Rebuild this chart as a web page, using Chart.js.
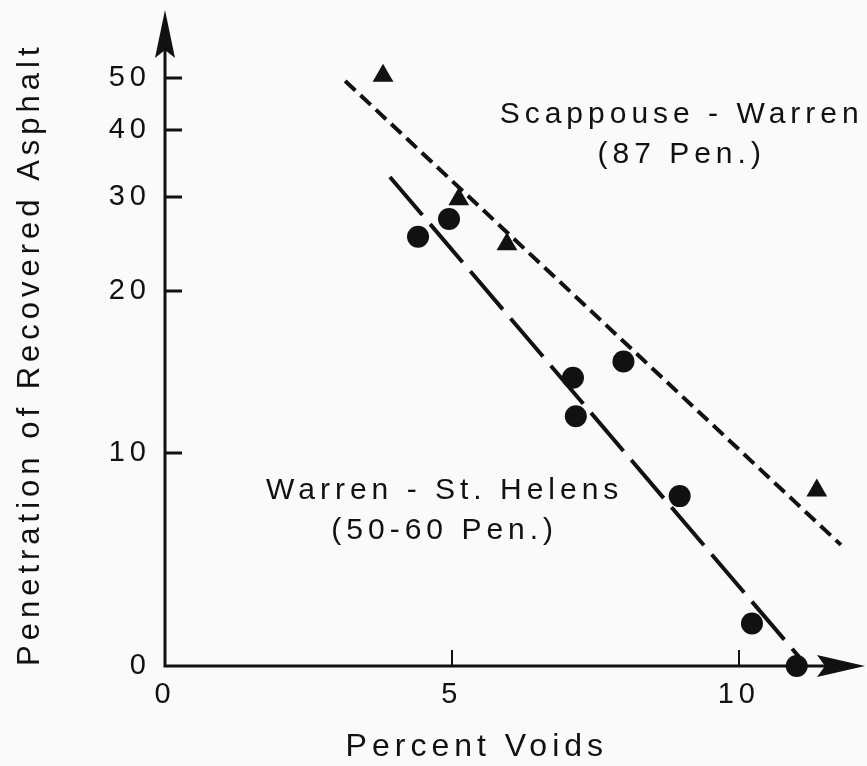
<!DOCTYPE html>
<html>
<head>
<meta charset="utf-8">
<title>Penetration vs Percent Voids</title>
<script src="https://cdn.jsdelivr.net/npm/chart.js@4/dist/chart.umd.min.js"></script>
<style>
  html, body { margin: 0; padding: 0; background: #fafafa; }
  canvas { display: block; }
</style>
</head>
<body>
<canvas id="voidsChart" width="867" height="766"></canvas>
<script>
// Penetration of recovered asphalt against percent voids, two mix sources.
// The penetration axis is logarithmic; its floor is printed as "0".

const Y_FLOOR = 4;
const Y_MAX = 67;
const X_MAX = 12.2;

const xTickValues = [0, 5, 10];
const yTickValues = [0, 10, 20, 30, 40, 50];

// Scappouse - Warren (87 pen.), triangles
const scappouseVoids = [3.80, 5.12, 5.96, 11.36];
const scappousePen   = [50.5, 29.7, 24.5, 8.5];

// Warren - St. Helens (50-60 pen.), circles
const warrenVoids = [4.41, 4.95, 7.11, 7.16, 7.99, 8.97, 10.23, 11.01];
const warrenPen   = [25.3, 27.3, 13.8, 11.7, 14.8, 8.3, 4.8, 0];

// fitted lines (end points)
const scappouseFitVoids = [3.14, 11.78];
const scappouseFitPen   = [49.4, 6.73];
const warrenFitVoids = [3.92, 11.05];
const warrenFitPen   = [32.7, 4.16];

const scappouseLabel = ['Scappouse - Warren', '(87 Pen.)'];
const warrenLabel = ['Warren - St. Helens', '(50-60 Pen.)'];
const xTitle = 'Percent Voids';
const yTitle = 'Penetration of Recovered Asphalt';

const INK = '#111111';
const FONT = '"Liberation Sans", Arial, Helvetica, sans-serif';

// zero can't sit on a log axis, so it goes to the floor
function toPoints(xs, ys) {
    return xs.map((x, i) => ({ x: x, y: Math.max(ys[i], Y_FLOOR) }));
}

// axis lines with arrow heads and inward tick marks
const axisArrows = {
    id: 'axisArrows',
    beforeDraw(chart) {
        chart.ctx.letterSpacing = '5px';
    },
    beforeDatasetsDraw(chart) {
        const { ctx, chartArea, scales } = chart;
        const x0 = chartArea.left, y0 = chartArea.bottom;
        const xEnd = chartArea.right, yEnd = chartArea.top;
        ctx.save();
        ctx.strokeStyle = INK;
        ctx.fillStyle = INK;
        ctx.lineWidth = 3;
        ctx.beginPath();
        ctx.moveTo(x0, yEnd + 30);
        ctx.lineTo(x0, y0);
        ctx.lineTo(xEnd - 30, y0);
        ctx.stroke();

        // up arrow
        ctx.beginPath();
        ctx.moveTo(x0, yEnd);
        ctx.lineTo(x0 + 10, yEnd + 48);
        ctx.lineTo(x0, yEnd + 40);
        ctx.lineTo(x0 - 10, yEnd + 48);
        ctx.closePath();
        ctx.fill();
        // right arrow
        ctx.beginPath();
        ctx.moveTo(xEnd, y0);
        ctx.lineTo(xEnd - 48, y0 - 11);
        ctx.lineTo(xEnd - 40, y0);
        ctx.lineTo(xEnd - 48, y0 + 11);
        ctx.closePath();
        ctx.fill();

        // tick marks pointing into the plot
        ctx.lineWidth = 3;
        yTickValues.filter(v => v > 0).forEach(v => {
            const py = Math.round(scales.y.getPixelForValue(v));
            ctx.beginPath();
            ctx.moveTo(x0, py);
            ctx.lineTo(x0 + 17, py);
            ctx.stroke();
        });
        ctx.lineWidth = 2;
        xTickValues.filter(v => v > 0).forEach(v => {
            const px = Math.round(scales.x.getPixelForValue(v));
            ctx.beginPath();
            ctx.moveTo(px, y0);
            ctx.lineTo(px, y0 - 16);
            ctx.stroke();
        });
        ctx.restore();
    }
};

// series captions and the x axis title (centred under the 0-10.8 span, not the arrow)
const chartText = {
    id: 'chartText',
    afterDraw(chart, args, opts) {
        const { ctx, scales, chartArea } = chart;
        ctx.save();
        ctx.fillStyle = INK;
        ctx.textAlign = 'center';
        ctx.textBaseline = 'middle';
        ctx.font = '30px ' + FONT;
        opts.items.forEach(item => {
            const px = scales.x.getPixelForValue(item.x);
            const py = scales.y.getPixelForValue(item.y);
            item.lines.forEach((t, i) => ctx.fillText(t, px + 2, py + i * 40));
        });
        ctx.font = '32px ' + FONT;
        ctx.fillText(xTitle, scales.x.getPixelForValue(opts.xTitleAt) + 2, chartArea.bottom + 81);
        ctx.restore();
    }
};

function noEdgePadding(s) {
    s.paddingTop = 0;
    s.paddingBottom = 0;
    s.paddingLeft = 0;
    s.paddingRight = 0;
}

new Chart(document.getElementById('voidsChart'), {
    type: 'scatter',
    data: {
        datasets: [
            {
                label: 'Scappouse - Warren',
                data: toPoints(scappouseVoids, scappousePen),
                pointStyle: 'triangle',
                pointRadius: 12,
                backgroundColor: INK,
                borderColor: INK,
                borderWidth: 0,
                clip: false
            },
            {
                label: 'Warren - St. Helens',
                data: toPoints(warrenVoids, warrenPen),
                pointStyle: 'circle',
                pointRadius: 11,
                backgroundColor: INK,
                borderColor: INK,
                borderWidth: 0,
                clip: false
            },
            {
                label: 'Scappouse - Warren fit',
                data: toPoints(scappouseFitVoids, scappouseFitPen),
                showLine: true,
                pointRadius: 0,
                borderColor: INK,
                borderWidth: 4,
                borderDash: [14, 7],
                clip: false
            },
            {
                label: 'Warren - St. Helens fit',
                data: toPoints(warrenFitVoids, warrenFitPen),
                showLine: true,
                pointRadius: 0,
                borderColor: INK,
                borderWidth: 4,
                borderDash: [50, 12],
                clip: false
            }
        ]
    },
    options: {
        responsive: false,
        animation: false,
        layout: {
            autoPadding: false,
            padding: { top: 10, right: 2, left: 0, bottom: 0 }
        },
        plugins: {
            legend: { display: false },
            tooltip: { enabled: false },
            chartText: {
                xTitleAt: 5.4,
                items: [
                    { lines: scappouseLabel, x: 8.97, y: 42.7 },
                    { lines: warrenLabel, x: 4.84, y: 8.48 }
                ]
            }
        },
        scales: {
            x: {
                type: 'linear',
                min: 0,
                max: X_MAX,
                grid: { display: false, drawTicks: false },
                border: { display: false },
                afterBuildTicks: s => { s.ticks = xTickValues.map(v => ({ value: v })); },
                afterFit: s => { s.height = 100; noEdgePadding(s); },
                ticks: {
                    autoSkip: false,
                    maxRotation: 0,
                    padding: 12,
                    color: INK,
                    font: { family: FONT, size: 29 },
                    callback: v => String(v)
                }
            },
            y: {
                type: 'logarithmic',
                min: Y_FLOOR,
                max: Y_MAX,
                grid: { display: false, drawTicks: false },
                border: { display: false },
                afterBuildTicks: s => {
                    s.ticks = yTickValues.map(v => ({ value: Math.max(v, Y_FLOOR) }));
                },
                afterFit: s => { s.width = 165; noEdgePadding(s); },
                ticks: {
                    autoSkip: false,
                    padding: 14,
                    color: INK,
                    font: { family: FONT, size: 29 },
                    callback: v => (v === Y_FLOOR ? '0' : String(v))
                },
                title: {
                    display: true,
                    text: yTitle,
                    align: 'start',
                    color: INK,
                    font: { family: FONT, size: 31 },
                    padding: { top: 12, bottom: 0 }
                }
            }
        }
    },
    plugins: [axisArrows, chartText]
});
</script>
</body>
</html>
